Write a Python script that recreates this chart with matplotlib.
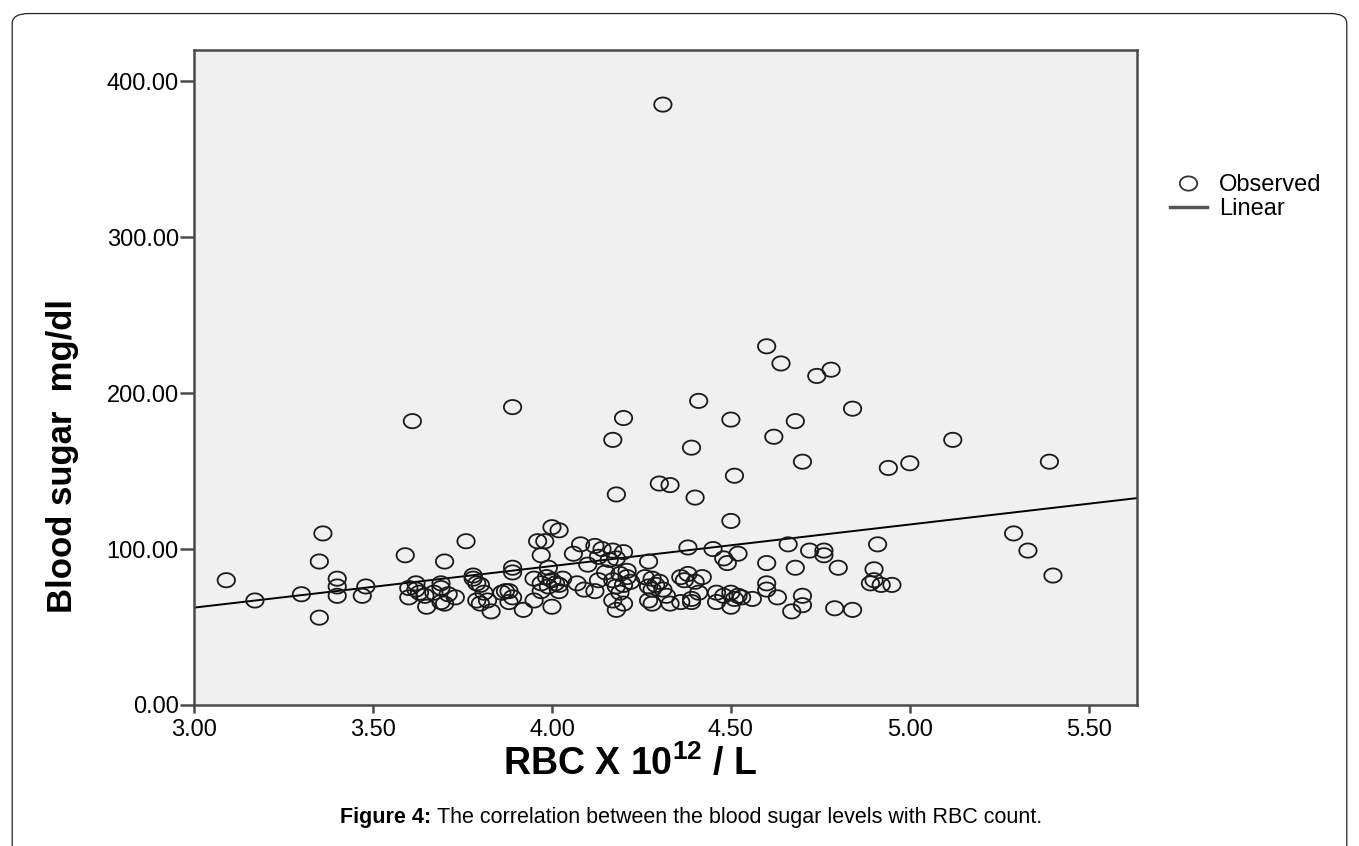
import numpy as np
import matplotlib
matplotlib.use("Agg")
import matplotlib.pyplot as plt
from matplotlib.path import Path
from matplotlib.lines import Line2D
from matplotlib.patches import FancyBboxPatch

# RBC count (x 10^12 / L) and blood sugar (mg/dl)
rbc = [4.31, 4.60, 4.64, 4.74, 4.78, 4.41, 4.20, 4.50, 4.84, 4.68,
       4.17, 4.62, 4.39, 4.70, 4.94, 5.00, 4.51, 4.30, 4.33, 4.18,
       4.40, 4.50, 4.91, 4.66, 3.61, 3.89, 5.12, 5.39, 5.29, 5.33,
       5.40, 3.36, 3.35, 3.35, 3.09, 3.17, 3.30, 3.59, 3.76, 3.70,
       3.96, 3.98, 4.00, 4.02, 3.97,
       4.08, 4.12, 4.06, 4.14, 4.17, 4.20, 4.38, 4.45, 4.52, 4.72,
       4.76, 4.76, 4.48, 4.49, 4.27, 4.13, 4.16, 4.18, 4.10, 4.60,
       4.68, 4.80, 4.90, 3.89, 3.99, 3.89,
       4.90, 4.89, 4.92, 4.95, 4.79, 4.84, 4.60, 4.60, 4.63, 4.70,
       4.70, 4.67, 4.56,
       3.40, 3.40, 3.40, 3.48, 3.47, 3.60, 3.60, 3.62, 3.62, 3.63,
       3.65, 3.645, 3.67, 3.69, 3.69, 3.69, 3.71, 3.70, 3.73, 3.78,
       3.78, 3.80, 3.79, 3.79, 3.80, 3.81, 3.83, 3.82, 3.86, 3.88,
       3.87, 3.89, 3.88, 3.92,
       3.95, 3.97, 3.985, 4.00, 4.02, 3.99, 4.02, 3.97, 3.95, 4.00,
       4.01, 4.03,
       4.07, 4.09, 4.12, 4.17, 4.19, 4.20, 4.18, 4.21, 4.17, 4.18,
       4.20, 4.19, 4.21, 4.22, 4.15, 4.13,
       4.26, 4.28, 4.29, 4.31, 4.32, 4.28, 4.27, 4.28, 4.33, 4.36,
       4.30, 4.27,
       4.36, 4.38, 4.40, 4.42, 4.39, 4.41, 4.39, 4.37,
       4.46, 4.46, 4.50, 4.51, 4.50, 4.53, 4.52, 4.48]
sugar = [385, 230, 219, 211, 215, 195, 184, 183, 190, 182,
         170, 172, 165, 156, 152, 155, 147, 142, 141, 135,
         133, 118, 103, 103, 182, 191, 170, 156, 110, 99,
         83, 110, 92, 56, 80, 67, 71, 96, 105, 92,
         105, 105, 114, 112, 96,
         103, 102, 97, 100, 99, 98, 101, 100, 97, 99,
         99, 96, 94, 91, 92, 95, 93, 94, 90, 91,
         88, 88, 87, 88, 88, 85,
         80, 78, 77, 77, 62, 61, 78, 74, 69, 70,
         64, 60, 68,
         81, 76, 70, 76, 70, 75, 69, 74, 78, 72,
         63, 70, 72, 78, 75, 66, 71, 65, 69, 81,
         83, 77, 78, 67, 65, 72, 60, 67, 72, 73,
         73, 69, 66, 61,
         81, 78, 82, 80, 77, 76, 73, 73, 67, 63,
         78, 81,
         78, 74, 73, 80, 84, 77, 76, 82, 67, 61,
         65, 72, 86, 79, 85, 80,
         82, 81, 77, 74, 70, 74, 67, 65, 65, 66,
         79, 76,
         82, 84, 79, 82, 68, 72, 66, 80,
         72, 66, 72, 68, 63, 69, 70, 70]

x_ticks = [3.0, 3.5, 4.0, 4.5, 5.0, 5.5]
y_ticks = [0, 100, 200, 300, 400]

plt.rcParams['font.family'] = ['Liberation Sans', 'DejaVu Sans']
plt.rcParams['mathtext.fontset'] = 'custom'
plt.rcParams['mathtext.rm'] = 'Liberation Sans'
plt.rcParams['mathtext.bf'] = 'Liberation Sans:bold'

# slightly wide ellipse, like the stretched SPSS markers
t = np.linspace(0, 2 * np.pi, 60)
ell = Path(np.column_stack([1.22 * np.cos(t), np.sin(t)]), closed=True)

fig = plt.figure(figsize=(13.59, 8.46), dpi=100)
fig.patches.append(FancyBboxPatch((0.009, -0.05), 0.982, 1.034,
                                  boxstyle="round,pad=0,rounding_size=0.012",
                                  transform=fig.transFigure, fill=False,
                                  edgecolor='#222222', linewidth=0.9))

ax = fig.add_axes([0.1428, 0.1667, 0.6939, 0.7742])
ax.set_facecolor('#f0f0f0')
ax.scatter(rbc, sugar, marker=ell, s=12.5**2, facecolors='none',
           edgecolors='#1a1a1a', linewidths=1.3, zorder=3)

xlim = (3.0, 5.635)
b, a = np.polyfit(rbc, sugar, 1)
xs = np.array(xlim)
ax.plot(xs, a + b * xs, color='black', lw=1.4, zorder=2)

ax.set_xlim(*xlim)
ax.set_ylim(0, 420)
ax.set_xticks(x_ticks)
ax.set_yticks(y_ticks)
ax.set_xticklabels(['%.2f' % v for v in x_ticks])
ax.set_yticklabels(['%.2f' % v for v in y_ticks])
for s in ax.spines.values():
    s.set_color('#4a4a4a')
    s.set_linewidth(1.8)
ax.tick_params(axis='y', length=10, width=1.8, color='#4a4a4a', labelsize=17, pad=1)
ax.tick_params(axis='x', length=6, width=1.8, color='#4a4a4a', labelsize=17, pad=4)

ax.set_xlabel(r'RBC X 10$^{\mathbf{12}}$ / L', fontsize=27, fontweight='bold')
ax.xaxis.set_label_coords(0.462, -0.107)
ax.xaxis.label.set_va('baseline')
ax.set_ylabel('Blood sugar  mg/dl', fontsize=25, fontweight='bold')
ax.yaxis.set_label_coords(-0.14, 0.38)
ax.yaxis.label.set_va('center')

handles = [Line2D([], [], marker=ell, markersize=12.5, markerfacecolor='none',
                  markeredgecolor='#333333', markeredgewidth=1.3, linestyle='none'),
           Line2D([], [], color='#555555', lw=2.5)]
fig.legend(handles, ['Observed', 'Linear'], loc='upper left',
           bbox_to_anchor=(0.845, 0.8195), frameon=False, fontsize=17,
           handlelength=1.6, handletextpad=0.5, labelspacing=0.1)

fig.text(431 / 1359, 0.034, 'Figure 4:', ha='right', va='center',
         fontsize=15.5, fontweight='bold')
fig.text(437 / 1359, 0.034, 'The correlation between the blood sugar levels with RBC count.',
         ha='left', va='center', fontsize=15.5)

fig.savefig('out.png', dpi=100)
